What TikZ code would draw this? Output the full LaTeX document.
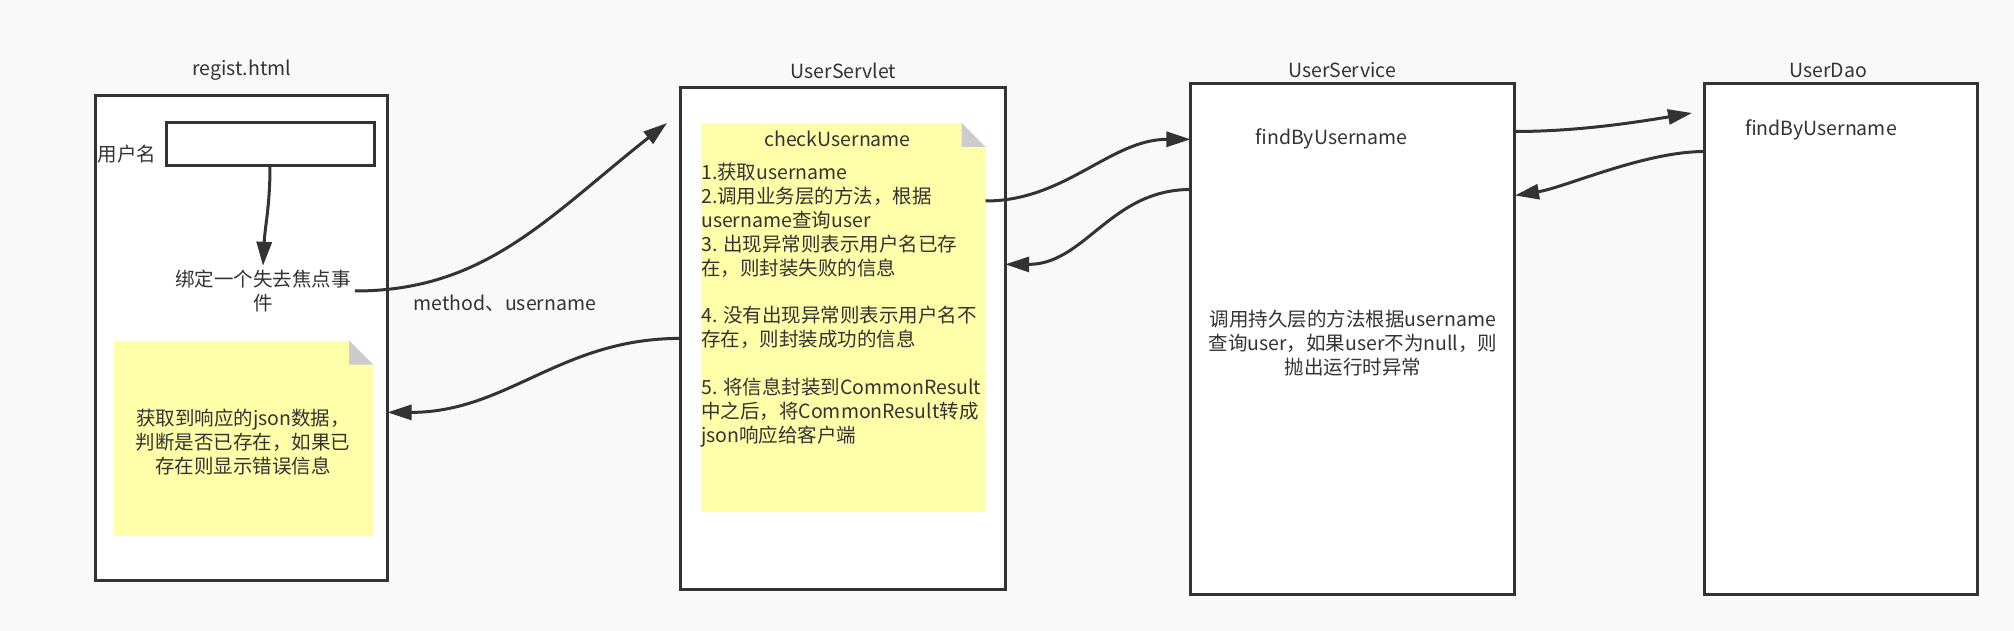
\documentclass[tikz,border=0pt]{standalone}
\usepackage{fontspec}
\setmainfont{Noto Sans CJK SC}
\usepackage{xcolor}
\usepackage{tikz}
\usetikzlibrary{calc}
\usetikzlibrary{arrows.meta}
\usetikzlibrary{positioning}
\definecolor{edge}{HTML}{333333}
\definecolor{notefill}{HTML}{FFFFAA}
\definecolor{fold}{HTML}{CCCCCC}
\definecolor{canvas}{HTML}{F9F9F9}
\tikzset{>={Triangle[length=24pt,width=15pt]}}
\tikzstyle{layer} = [rectangle, draw=edge, line width=3pt, fill=white, inner sep=0pt, outer sep=0pt]
\tikzstyle{note} = [rectangle, fill=notefill, inner sep=0pt, outer sep=0pt]
\tikzstyle{txt} = [font=\fontsize{19.5}{23.9}\selectfont, text=edge, inner sep=4pt]
\tikzstyle{flow} = [->, line width=3pt, draw=edge]

\begin{document}
\begin{tikzpicture}[x=1pt, y=-1pt]
\fill [canvas] (0, 0) rectangle (2014, 631);
% boxes
\node [layer, minimum width=292pt, minimum height=484pt] (regist) at (241.5, 338) {};
\node [layer, minimum width=208pt, minimum height=43pt] (field) at (270, 144.5) {};
\node [note, minimum width=259pt, minimum height=195pt] (tip) at (243.5, 438) {};
\node [layer, minimum width=325pt, minimum height=502pt] (servlet) at (842.7, 338.4) {};
\node [note, minimum width=285pt, minimum height=389pt] (check) at (843, 317.5) {};
\node [layer, minimum width=324.5pt, minimum height=511pt] (service) at (1352.7, 339) {};
\node [layer, minimum width=273pt, minimum height=511pt] (dao) at (1841, 339) {};
\fill [white] (tip.north east) -- ++(-24, 0) -- ++(24, 24) -- cycle;
\fill [fold] ($(tip.north east)+(-24, 0)$) -- ++(0, 24) -- ++(24, 0) -- cycle;
\fill [white] (check.north east) -- ++(-24, 0) -- ++(24, 24) -- cycle;
\fill [fold] ($(check.north east)+(-24, 0)$) -- ++(0, 24) -- ++(24, 0) -- cycle;
% titles
\node [txt] (registname) at (241.7, 70.4) {regist.html};
\node [txt] (servletname) at (843.4, 70.4) {UserServlet};
\node [txt] (servicename) at (1342, 70.4) {UserService};
\node [txt] (daoname) at (1828, 70.4) {UserDao};
% texts
\node [txt] (fieldname) at (127, 154) {用户名};
\node [txt, align=center] (event) at (263, 291) {绑定一个失去焦点事\\件};
\node [txt] (params) at (505, 303.6) {method、username};
\node [txt, align=center] (tiptext) at (243, 441.8) {获取到响应的json数据，\\判断是否已存在，如果已\\存在则显示错误信息};
\node [txt] (checkname) at (837.5, 139.3) {checkUsername};
\node [txt, align=left, anchor=north west, inner sep=0pt] (steps) at (701, 163) {1.获取username\\2.调用业务层的方法，根据\\username查询user\\3. 出现异常则表示用户名已存\\在，则封装失败的信息\\[23.9pt]4. 没有出现异常则表示用户名不\\存在，则封装成功的信息\\[23.9pt]5. 将信息封装到CommonResult\\中之后，将CommonResult转成\\json响应给客户端};
\node [txt] (sfind) at (1331.5, 139.3) {findByUsername};
\node [txt, align=center] (rule) at (1353, 342.9) {调用持久层的方法根据username\\查询user，如果user不为null，则\\抛出运行时异常};
\node [txt] (dfind) at (1821, 130) {findByUsername};
\coordinate (toservlet) at (667, 123);
\coordinate (todao) at (1692, 113);
% arrows
\draw [flow] (field.south) .. controls +(0, 40) and +(2, -40) .. (event.north);
\draw [flow] (event.east) .. controls +(130, 0) and +(-120, 95) .. (toservlet);
\draw [flow] (servlet.west) .. controls +(-120, 0) and +(120, 0) .. (regist.-27);
\draw [flow] ($(check.north east)+(0, 78)$) .. controls +(80, 0) and +(-80, 0) .. (service.west |- sfind);
\draw [flow] ($(service.north west)+(0, 106)$) .. controls +(-80, 0) and +(80, 0) .. ($(servlet.north east)+(0, 177)$);
\draw [flow] ($(service.north east)+(0, 48)$) .. controls +(60, 0) and +(-60, 10) .. (todao);
\draw [flow] ($(dao.north west)+(0, 68)$) .. controls +(-60, 0) and +(50, -8) .. ($(service.north east)+(0, 112)$);
\end{tikzpicture}
\end{document}
